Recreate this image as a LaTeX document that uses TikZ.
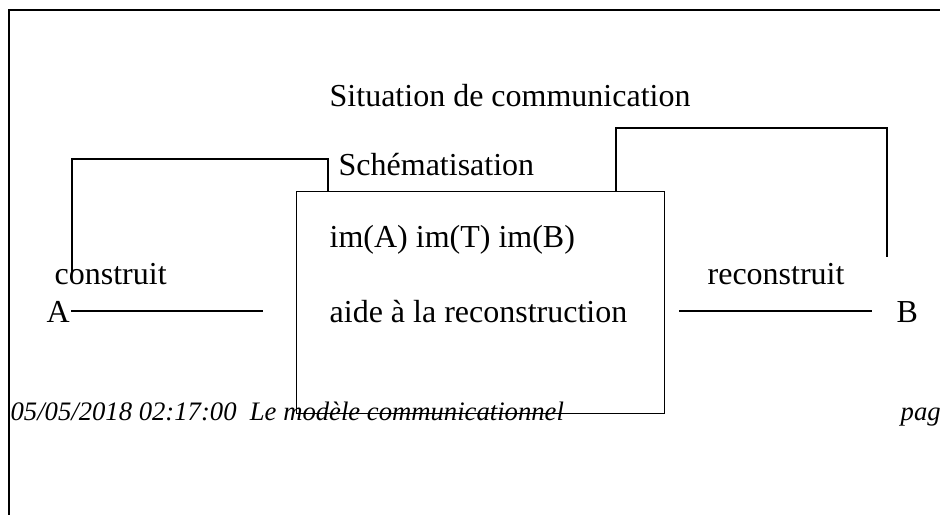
\documentclass[tikz,border=0pt]{standalone}
\usepackage{fontspec}
\setmainfont{Liberation Serif}

\tikzset{every picture/.style={line width=1pt}}
\tikzset{
  lbl/.style={anchor=base west, inner sep=0.75pt, font=\fontsize{24}{28}\selectfont},
  footlbl/.style={anchor=base west, inner sep=0.75pt, font=\fontsize{20}{24}\selectfont\itshape},
  schemabox/.style={draw, anchor=north west, inner sep=0pt, minimum width=276pt, minimum height=166.5pt}
}

\begin{document}
\begin{tikzpicture}[x=0.75pt,y=0.75pt,yscale=-1,xscale=1]
\useasboundingbox (0,0) rectangle (940,515);
% Frame
\coordinate (ftop) at (940,9.5);
\coordinate (fcorner) at (8.5,9.5);
\coordinate (fbot) at (8.5,515);
\draw [line width=1.5pt] (ftop) -- (fcorner) -- (fbot);
% Shape: Rectangle
\node [schemabox] (schema) at (296,191) {};
% Text Node
\node [lbl] (situation) at (328,106) {Situation de communication};
\node [lbl] (schematisation) at (337,175) {Schématisation};
\node [lbl] (images) at (328,247) {im(A) im(T) im(B)};
\node [lbl] (aide) at (328,322) {aide à la reconstruction};
\node [lbl] (construit) at (53,284) {construit};
\node [lbl] (reconstruit) at (706,284) {reconstruit};
\node [lbl] (A) at (45,322) {A};
\node [lbl] (B) at (895,322) {B};
\node [footlbl] (date) at (9,420) {05/05/2018 02:17:00\ \ Le modèle communicationnel};
\node [footlbl] (page) at (899,420) {pag};
% Brackets
\coordinate (cstart) at (72,273);
\coordinate (lbend) at (328,159);
\draw (cstart) |- (lbend) -- (lbend |- schema.north);
\coordinate (rbend) at (616,128);
\coordinate (rstart) at (887,257);
\draw (rbend |- schema.north) -- (rbend) -| (rstart);
% Lines
\coordinate (aend) at (263,311);
\draw (A.east |- aend) -- (aend);
\coordinate (bstart) at (679,311);
\coordinate (bend) at (872,311);
\draw (bstart) -- (bend);
\end{tikzpicture}
\end{document}
